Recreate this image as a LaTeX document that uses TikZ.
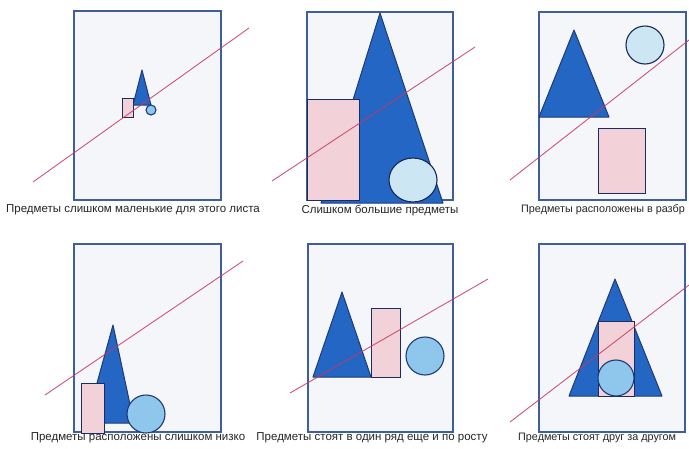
\documentclass[tikz,border=0pt]{standalone}
\usepackage{fontspec}
\setmainfont{Liberation Sans}
\usepackage{tikz}
\usetikzlibrary{positioning,calc}

\definecolor{sheetblue}{HTML}{3F5F9A}
\definecolor{sheetfill}{HTML}{F5F6F9}
\definecolor{triblue}{HTML}{2466C4}
\definecolor{edgenavy}{HTML}{1F3A78}
\definecolor{rectpink}{HTML}{F2D2D8}
\definecolor{ballblue}{HTML}{8FC6EC}
\definecolor{ballpale}{HTML}{CDE6F4}
\definecolor{cutred}{HTML}{C8385E}

\begin{document}
\begin{tikzpicture}[
    x=1pt,y=-1pt,
	c_sheet/.style={
		draw=sheetblue,
		fill=sheetfill,
		line width=1.2pt
	},
	c_tri/.style={
		draw=edgenavy,
		fill=triblue,
		line width=1pt,
		line join=round
	},
	c_rect/.style={
		draw=edgenavy!80!black,
		fill=rectpink,
		line width=1pt
	},
	c_ball/.style={
		draw=edgenavy,
		fill=ballblue,
		line width=1.1pt
	},
	c_ballpale/.style={
		draw=edgenavy!70!black,
		fill=ballpale,
		line width=1.1pt
	},
	c_line/.style={
		cutred,
		opacity=0.85,
		line width=0.9pt
	},
	c_text/.style={
		black!85,
		font=\fontsize{11.5}{13}\selectfont,
		inner sep=0pt
	},
	c_textedge/.style={
		c_text,
		font=\fontsize{10.8}{13}\selectfont,
		anchor=west
	}
	]

			\useasboundingbox[fill=white] (0,0) rectangle (689,448);

			% =========================================================================
			% 1. TOO SMALL
			% =========================================================================

			\draw[c_sheet] (74,11) rectangle (221,200);

			\draw[c_tri] (142,70)--(151,105)--(133,105)--cycle;
			\draw[c_rect] (122,98) rectangle (133,117);
			\draw[c_ball] (151,110) circle (5);

			\draw[c_line] (33,182)--(249,28);

			\node[c_text] (cap_small) at (133,210)
			{Предметы слишком маленькие для этого листа};

			% =========================================================================
			% 2. TOO BIG
			% =========================================================================

			\draw[c_sheet] (307,12) rectangle (453,200);

			\draw[c_tri] (380,13)--(443,203)--(321,203)--cycle;
			\draw[c_rect] (307,99) rectangle (359,200);
			\draw[c_ballpale] (413,180) ellipse (24 and 22);

			\draw[c_line] (272,181)--(475,47);

			\node[c_text] (cap_big) at (380,210)
			{Слишком большие предметы};

			% =========================================================================
			% 3. SCATTERED
			% =========================================================================

			\draw[c_sheet] (539,12) rectangle (686,200);

			\draw[c_tri] (574,30)--(609,117)--(539,117)--cycle;
			\draw[c_ballpale] (645,45) circle (19);
			\draw[c_rect] (598,128) rectangle (645,193);

			\draw[c_line] (510,180)--(689,40);

			\node[c_textedge] (cap_scatter) at (521,210)
			{Предметы расположены в разбр};

			% =========================================================================
			% 4. TOO LOW
			% =========================================================================

			\draw[c_sheet] (74,244) rectangle (221,432);

			\draw[c_tri] (113,325)--(134,423)--(86,423)--cycle;
			\draw[c_rect] (81,383) rectangle (104,433);
			\draw[c_ball] (146,414) circle (19);

			\draw[c_line] (45,395)--(243,261);

			\node[c_text] (cap_low) at (138,438)
			{Предметы расположены слишком низко};

			% =========================================================================
			% 5. IN A ROW
			% =========================================================================

			\draw[c_sheet] (308,244) rectangle (453,432);

			\draw[c_tri] (342,292)--(371,377)--(313,377)--cycle;
			\draw[c_rect] (371,308) rectangle (400,377);
			\draw[c_ball] (425,356) circle (19);

			\draw[c_line] (290,393)--(488,279);

			\node[c_text] (cap_row) at (372,438)
			{Предметы стоят в один ряд еще и по росту};

			% =========================================================================
			% 6. BEHIND EACH OTHER
			% =========================================================================

			\draw[c_sheet] (539,244) rectangle (685,432);

			\draw[c_tri] (615,279)--(662,396)--(569,396)--cycle;
			\draw[c_rect] (598,321) rectangle (634,396);
			\draw[c_ball] (616,378) circle (18);

			\draw[c_line] (510,422)--(689,285);

			\node[c_textedge] (cap_behind) at (518,438)
			{Предметы стоят друг за другом};

		\end{tikzpicture}
\end{document}
